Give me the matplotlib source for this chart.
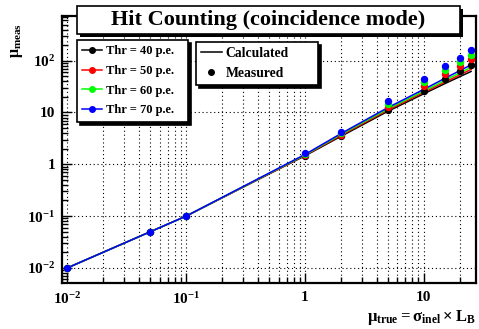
import matplotlib
matplotlib.use('Agg')
import matplotlib.pyplot as plt
from matplotlib.patches import Rectangle
from matplotlib.lines import Line2D
from matplotlib.ticker import FixedLocator, LogLocator, NullFormatter

plt.rcParams['font.family'] = 'Liberation Serif'
plt.rcParams['font.weight'] = 'bold'
plt.rcParams['mathtext.fontset'] = 'custom'
plt.rcParams['mathtext.rm'] = 'Liberation Serif:bold'
plt.rcParams['mathtext.it'] = 'Liberation Serif:bold'
plt.rcParams['mathtext.bf'] = 'Liberation Serif:bold'

# --- data ---
mu_true = [0.01, 0.05, 0.1, 1, 2, 5, 10, 15, 20, 25]

meas_40 = [0.01, 0.05, 0.1, 1.43, 3.5, 11.2, 26.5, 44, 62, 83]
meas_50 = [0.01, 0.05, 0.1, 1.50, 3.7, 12.9, 33, 55, 80, 108]
meas_60 = [0.01, 0.05, 0.1, 1.56, 3.95, 14.5, 38.5, 66, 96, 131]
meas_70 = [0.01, 0.05, 0.1, 1.62, 4.2, 16.4, 44, 78, 114, 159]

calc_40 = [0.01, 0.05, 0.1, 1.46, 3.45, 10.6, 23.0, 36, 49, 62]
calc_50 = [0.01, 0.05, 0.1, 1.49, 3.6, 11.2, 24.5, 38.5, 53, 68]
calc_60 = [0.01, 0.05, 0.1, 1.52, 3.75, 11.8, 26.0, 41.5, 58, 74.5]
calc_70 = [0.01, 0.05, 0.1, 1.55, 3.9, 12.5, 28.0, 45.5, 64, 83]

thr_labels = ['Thr = 40 p.e.', 'Thr = 50 p.e.', 'Thr = 60 p.e.', 'Thr = 70 p.e.']
thr_colors = ['black', '#ff0000', '#00ff00', '#0000ff']

xtick_vals = [0.01, 0.1, 1, 10]
xtick_labels = ['$10^{-2}$', '$10^{-1}$', '1', '10']
ytick_vals = [0.01, 0.1, 1, 10, 100]
ytick_labels = ['$10^{-2}$', '$10^{-1}$', '1', '10', '$10^{2}$']

meas_all = [meas_40, meas_50, meas_60, meas_70]
calc_all = [calc_40, calc_50, calc_60, calc_70]

W, H = 479, 329
fig = plt.figure(figsize=(W / 100, H / 100), dpi=100)
ax = fig.add_axes([62 / W, 46 / H, 414 / W, 267 / H])

# calculated curves, then measured points on top
for calc, col in zip(calc_all, thr_colors):
    ax.plot(mu_true, calc, color=col, lw=1.1, zorder=3)
for meas, col in zip(meas_all, thr_colors):
    ax.plot(mu_true, meas, ls='none', marker='o', ms=4.3, color=col, zorder=4)

ax.set_xscale('log')
ax.set_yscale('log')
ax.set_xlim(0.009, 27.5)
ax.set_ylim(0.0051, 730)

ax.xaxis.set_major_locator(FixedLocator(xtick_vals))
ax.xaxis.set_ticklabels(xtick_labels)
ax.yaxis.set_major_locator(FixedLocator(ytick_vals))
ax.yaxis.set_ticklabels(ytick_labels)
ax.xaxis.set_minor_locator(LogLocator(base=10, subs=range(2, 10), numticks=20))
ax.yaxis.set_minor_locator(LogLocator(base=10, subs=range(2, 10), numticks=20))
ax.xaxis.set_minor_formatter(NullFormatter())
ax.yaxis.set_minor_formatter(NullFormatter())

ax.tick_params(which='both', direction='in', width=1, labelsize=11)
ax.tick_params(which='major', length=7)
ax.tick_params(which='minor', length=4)
ax.tick_params(axis='x', pad=6)
ax.tick_params(axis='y', pad=5)

ax.grid(which='major', axis='both', color='black', lw=0.8, ls=(0, (1, 2.5)))
ax.grid(which='minor', axis='x', color='black', lw=0.8, ls=(0, (1, 2.5)))
ax.set_axisbelow(True)
for sp in ax.spines.values():
    sp.set_linewidth(1.6)

# axis titles
fig.text(17 / W, 1 - 23 / H, r'$\mu_{\rm meas}$', rotation=90, ha='center', va='top', fontsize=11.5)
fig.text(476 / W, 2 / H, r'$\mu_{\rm true} = \sigma_{\rm inel} \times L_{\rm B}$',
         ha='right', va='bottom', fontsize=12)

# title pave with shadow
fig.patches.append(Rectangle((80 / W, 1 - 36.5 / H), 383 / W, 27.5 / H,
                             transform=fig.transFigure, facecolor='black', edgecolor='none'))
fig.patches.append(Rectangle((77 / W, 1 - 33.5 / H), 383 / W, 27.5 / H,
                             transform=fig.transFigure, facecolor='white', edgecolor='black', lw=1.2))
fig.text(268.5 / W, 1 - 20 / H, 'Hit Counting (coincidence mode)', ha='center', va='center',
         fontsize=16, fontweight='bold')

# legends
thr_handles = [Line2D([], [], color=c, lw=1.1, marker='o', ms=4) for c in thr_colors]
leg1 = ax.legend(thr_handles, thr_labels, loc='upper left', mode='expand',
                 bbox_to_anchor=(77 / W, 1 - 118 / H, 111 / W, 78 / H),
                 bbox_transform=fig.transFigure,
                 fontsize=9, frameon=True, fancybox=False, edgecolor='black',
                 shadow={'color': 'black', 'alpha': 1}, framealpha=1,
                 handlelength=1.55, handletextpad=0.35, labelspacing=0.62,
                 borderpad=0.42, borderaxespad=0)
leg1.get_frame().set_linewidth(1.2)
ax.add_artist(leg1)

kind_handles = [Line2D([], [], color='black', lw=1.1),
                Line2D([], [], color='black', ls='none', marker='o', ms=4)]
leg2 = ax.legend(kind_handles, ['Calculated', 'Measured'], loc='upper left', mode='expand',
                 bbox_to_anchor=(196 / W, 1 - 83 / H, 122 / W, 41 / H),
                 bbox_transform=fig.transFigure,
                 fontsize=9.8, frameon=True, fancybox=False, edgecolor='black',
                 shadow={'color': 'black', 'alpha': 1}, framealpha=1,
                 handlelength=1.5, handletextpad=0.3, labelspacing=0.52,
                 borderpad=0.38, borderaxespad=0)
leg2.get_frame().set_linewidth(1.2)

fig.savefig('out.png', dpi=100)
